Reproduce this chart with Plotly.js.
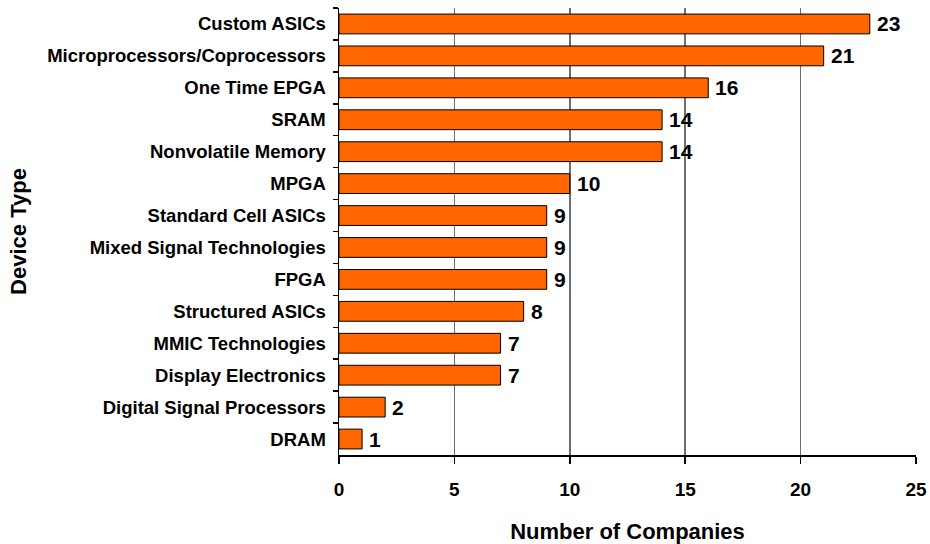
<!DOCTYPE html>
<html>
<head>
<meta charset="utf-8">
<script src="https://cdn.plot.ly/plotly-3.0.1.min.js"></script>
<style>html,body{margin:0;padding:0;background:#fff;}#chart{width:930px;height:544px;}</style>
</head>
<body>
<div id="chart"></div>
<script>
const categories = [
  "Custom ASICs",
  "Microprocessors/Coprocessors",
  "One Time EPGA",
  "SRAM",
  "Nonvolatile Memory",
  "MPGA",
  "Standard Cell ASICs",
  "Mixed Signal Technologies",
  "FPGA",
  "Structured ASICs",
  "MMIC Technologies",
  "Display Electronics",
  "Digital Signal Processors",
  "DRAM"
];
const companies = [23, 21, 16, 14, 14, 10, 9, 9, 9, 8, 7, 7, 2, 1];
const xTicks = [0, 5, 10, 15, 20, 25];

const font = "Arial, 'Liberation Sans', sans-serif";

const trace = {
  type: "bar",
  orientation: "h",
  y: categories,
  x: companies,
  marker: { color: "#FF6600", line: { color: "#000000", width: 1 } },
  hoverinfo: "none"
};

const annotations = categories.map((c, i) => ({
  x: companies[i], y: c, xref: "x", yref: "y",
  text: String(companies[i]), showarrow: false,
  xanchor: "left", yanchor: "middle", xshift: 5, yshift: 0,
  font: { family: font, size: 21, color: "#000", weight: "bold" }
}));

const layout = {
  width: 930, height: 544,
  margin: { l: 339, r: 14, t: 8, b: 89, pad: 0 },
  paper_bgcolor: "#fff", plot_bgcolor: "#fff",
  showlegend: false,
  bargap: 0.38,
  font: { family: font, color: "#000" },
  xaxis: {
    range: [0, 25],
    tickvals: xTicks,
    ticktext: xTicks.map(String),
    showgrid: true, gridcolor: "#6e6e6e", gridwidth: 1.5,
    zeroline: false,
    showline: true, linecolor: "#000", linewidth: 1.5,
    ticks: "outside", ticklen: 7, tickcolor: "#000", tickwidth: 1.5,
    ticklabelstandoff: 10,
    tickfont: { family: font, size: 19, color: "#000", weight: "bold" },
    title: { text: "<b>Number of Companies</b>", font: { family: font, size: 22, color: "#000" }, standoff: 24 },
    automargin: false,
    fixedrange: true
  },
  yaxis: {
    type: "category",
    autorange: "reversed",
    showgrid: false, zeroline: false,
    showline: true, linecolor: "#000", linewidth: 1.5,
    ticks: "outside", tickson: "boundaries", ticklen: 5, tickcolor: "#000", tickwidth: 1.5,
    ticklabelstandoff: 8,
    tickfont: { family: font, size: 18.5, color: "#000", weight: "bold" },
    title: { text: "<b>Device Type</b>", font: { family: font, size: 22, color: "#000" }, standoff: 14 },
    automargin: false,
    fixedrange: true
  },
  annotations: annotations
};

Plotly.newPlot("chart", [trace], layout, { displayModeBar: false, staticPlot: true });
</script>
</body>
</html>
